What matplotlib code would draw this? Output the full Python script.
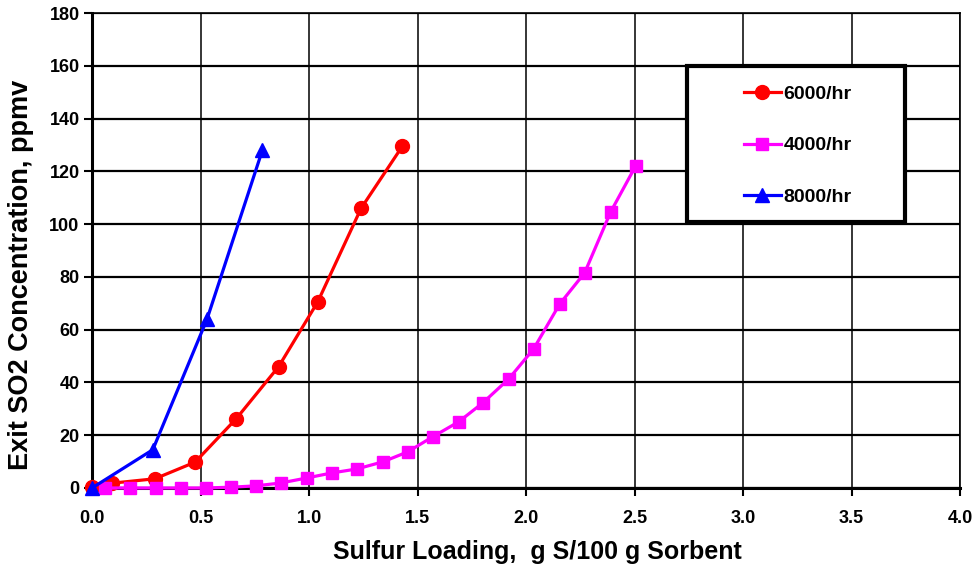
import matplotlib.pyplot as plt
from matplotlib.patches import Rectangle

plt.rcParams['font.family'] = ['Liberation Sans', 'DejaVu Sans']
plt.rcParams['font.weight'] = 'bold'

# 6000/hr
x6000 = [0.0, 0.09, 0.29, 0.475, 0.665, 0.86, 1.04, 1.24, 1.43]
y6000 = [0.5, 1.8, 3.5, 9.8, 26.3, 46.0, 70.5, 106.0, 129.5]

# 4000/hr
x4000 = [0.06, 0.175, 0.295, 0.41, 0.525, 0.64, 0.755, 0.87, 0.99, 1.105, 1.22,
         1.34, 1.455, 1.57, 1.69, 1.80, 1.92, 2.035, 2.155, 2.27, 2.39, 2.505]
y4000 = [0.0, 0.0, 0.0, 0.0, 0.0, 0.3, 0.8, 1.9, 3.8, 5.7, 7.2,
         9.9, 13.7, 19.4, 25.1, 32.2, 41.3, 52.7, 69.7, 81.5, 104.6, 122.0]

# 8000/hr
x8000 = [0.0, 0.28, 0.53, 0.785]
y8000 = [0.0, 14.5, 64.0, 128.0]

xticks = [0.0, 0.5, 1.0, 1.5, 2.0, 2.5, 3.0, 3.5, 4.0]
yticks = [0, 20, 40, 60, 80, 100, 120, 140, 160, 180]

fig = plt.figure(figsize=(9.77, 5.76), dpi=100)
ax = fig.add_axes([0.0942, 0.1528, 0.8884, 0.8246])

ax.plot(x6000, y6000, color='red', lw=2.3, marker='o', ms=10, label='6000/hr', clip_on=False, zorder=3)
ax.plot(x4000, y4000, color='magenta', lw=2.3, marker='s', ms=9, label='4000/hr', clip_on=False, zorder=3)
ax.plot(x8000, y8000, color='blue', lw=2.3, marker='^', ms=10, label='8000/hr', clip_on=False, zorder=3)

ax.set_xlim(0, 4.0)
ax.set_ylim(0, 180)
ax.set_xticks(xticks)
ax.set_xticklabels(['%.1f' % v for v in xticks])
ax.set_yticks(yticks)
ax.tick_params(labelsize=13, direction='out', length=6, width=1.5)
ax.tick_params(axis='x', pad=10)
ax.tick_params(axis='y', pad=3)

ax.grid(axis='y', color='black', lw=1.6)
ax.grid(axis='x', color='black', lw=1.1)
ax.set_axisbelow(True)
for s in ['left', 'bottom']:
    ax.spines[s].set_linewidth(2.2)
for s in ['top', 'right']:
    ax.spines[s].set_linewidth(1.2)

ax.set_xlabel('Sulfur Loading,  g S/100 g Sorbent', fontsize=18, fontweight='bold')
ax.xaxis.set_label_coords(0.513, -0.11)
ax.set_ylabel('Exit SO2 Concentration, ppmv', fontsize=19.5, fontweight='bold')
ax.yaxis.set_label_coords(-0.067, 0.449)

box = Rectangle((0.685, 0.56), 0.252, 0.328, transform=ax.transAxes,
                facecolor='white', edgecolor='black', lw=3, zorder=4)
ax.add_patch(box)
leg = ax.legend(loc='center', bbox_to_anchor=(0.813, 0.721), frameon=False,
                fontsize=14, labelspacing=1.75, handlelength=1.9,
                handletextpad=0.15)
leg.set_zorder(5)

fig.savefig('out.png', dpi=100)
